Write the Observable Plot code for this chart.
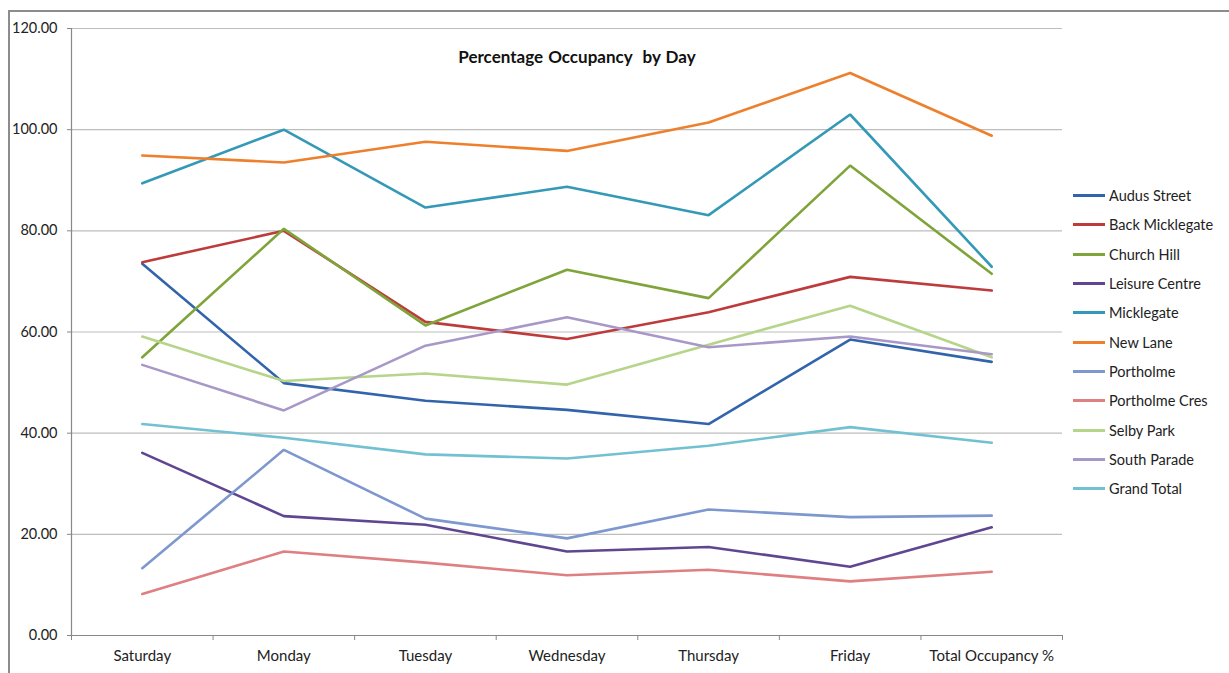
<!DOCTYPE html>
<html>
<head>
<meta charset="utf-8">
<script src="https://cdn.jsdelivr.net/npm/d3@7"></script>
<script src="https://cdn.jsdelivr.net/npm/@observablehq/plot@0.6"></script>
<style>
  body { margin: 0; background: #fff; }
  #wrap { position: relative; width: 1229px; height: 673px; overflow: hidden; font-family: Lato, "Open Sans", sans-serif; }
  #frame { position: absolute; left: 8px; top: 10px; width: 1300px; height: 700px; border-top: 2px solid #8c8c8c; border-left: 2px solid #8c8c8c; pointer-events: none; }
  #title { position: absolute; left: 0; top: 46px; width: 1154px; text-align: center; font-weight: bold; font-size: 17px; color: #111; word-spacing: 1px; }
  #legend { position: absolute; left: 1073px; top: 181px; font-size: 14.5px; color: #222; }
  .item { display: flex; align-items: center; height: 29.3px; }
  .sw { width: 32px; height: 3px; margin-right: 4px; }
  svg { position: absolute; left: 0; top: 0; }
</style>
</head>
<body>
<div id="wrap">
  <div id="frame"></div>
  <div id="title">Percentage Occupancy&nbsp; by Day</div>
  <div id="legend"></div>
</div>
<script>
const days = ["Saturday", "Monday", "Tuesday", "Wednesday", "Thursday", "Friday", "Total Occupancy %"];
const seriesNames = ["Audus Street", "Back Micklegate", "Church Hill", "Leisure Centre", "Micklegate", "New Lane", "Portholme", "Portholme Cres", "Selby Park", "South Parade", "Grand Total"];
const colors = ["#3264AC", "#BE3B3B", "#7FA43A", "#5E4690", "#3499B6", "#EE7F2C", "#7E98CF", "#DE7F82", "#B6D58A", "#A898C8", "#72C1D1"];

const audusStreet    = [73.5, 49.9, 46.4, 44.6, 41.8, 58.5, 54.1];
const backMicklegate = [73.8, 80.0, 62.0, 58.6, 63.9, 70.9, 68.2];
const churchHill     = [55.0, 80.4, 61.3, 72.3, 66.7, 92.9, 71.5];
const leisureCentre  = [36.1, 23.6, 21.9, 16.6, 17.5, 13.6, 21.4];
const micklegate     = [89.4, 100.0, 84.6, 88.7, 83.1, 103.0, 72.9];
const newLane        = [94.9, 93.5, 97.6, 95.8, 101.4, 111.2, 98.8];
const portholme      = [13.3, 36.7, 23.1, 19.2, 24.9, 23.4, 23.7];
const portholmeCres  = [8.2, 16.6, 14.4, 11.9, 13.0, 10.7, 12.6];
const selbyPark      = [59.1, 50.3, 51.8, 49.6, 57.5, 65.2, 55.0];
const southParade    = [53.5, 44.5, 57.3, 62.9, 57.0, 59.1, 55.6];
const grandTotal     = [41.8, 39.1, 35.8, 35.0, 37.5, 41.2, 38.1];

const yTicks = [0, 20, 40, 60, 80, 100, 120];

const seriesValues = [audusStreet, backMicklegate, churchHill, leisureCentre, micklegate, newLane, portholme, portholmeCres, selbyPark, southParade, grandTotal];

const data = [];
seriesNames.forEach((name, s) => {
  seriesValues[s].forEach((v, i) => data.push({series: name, idx: i, value: v}));
});

const idx = days.map((d, i) => i);
const bounds = d3.range(days.length + 1).map(i => i - 0.5);

const chart = Plot.plot({
  width: 1229,
  height: 673,
  marginLeft: 71,
  marginRight: 167,
  marginTop: 28,
  marginBottom: 38,
  style: {fontFamily: "Lato, 'Open Sans', sans-serif", fontSize: "14.5px", color: "#222", background: "transparent"},
  x: {type: "linear", domain: [-0.5, days.length - 0.5]},
  y: {domain: [0, 120]},
  color: {domain: seriesNames, range: colors},
  marks: [
    Plot.gridY(yTicks, {stroke: "#bdbdbd", strokeOpacity: 1, strokeWidth: 1.2}),
    Plot.axisY(yTicks, {tickFormat: d3.format(".2f"), tickSize: 4, tickPadding: 10, stroke: "#888", label: null}),
    Plot.axisX(idx, {tickFormat: i => days[i], tickSize: 0, tickPadding: 15, fontSize: 15, label: null}),
    Plot.axisX(bounds, {tickFormat: () => "", tickSize: 5, stroke: "#888", label: null}),
    Plot.ruleX([-0.5], {stroke: "#888", strokeWidth: 1.2}),
    Plot.ruleY([0], {stroke: "#888", strokeWidth: 1.2}),
    Plot.line(data, {x: "idx", y: "value", z: "series", stroke: "series", strokeWidth: 2.6, strokeLinejoin: "miter", curve: "linear"})
  ]
});
document.getElementById("wrap").appendChild(chart);

const legend = document.getElementById("legend");
seriesNames.forEach((name, i) => {
  const row = document.createElement("div");
  row.className = "item";
  const sw = document.createElement("div");
  sw.className = "sw";
  sw.style.background = colors[i];
  const t = document.createElement("span");
  t.textContent = name;
  row.appendChild(sw);
  row.appendChild(t);
  legend.appendChild(row);
});
</script>
</body>
</html>
